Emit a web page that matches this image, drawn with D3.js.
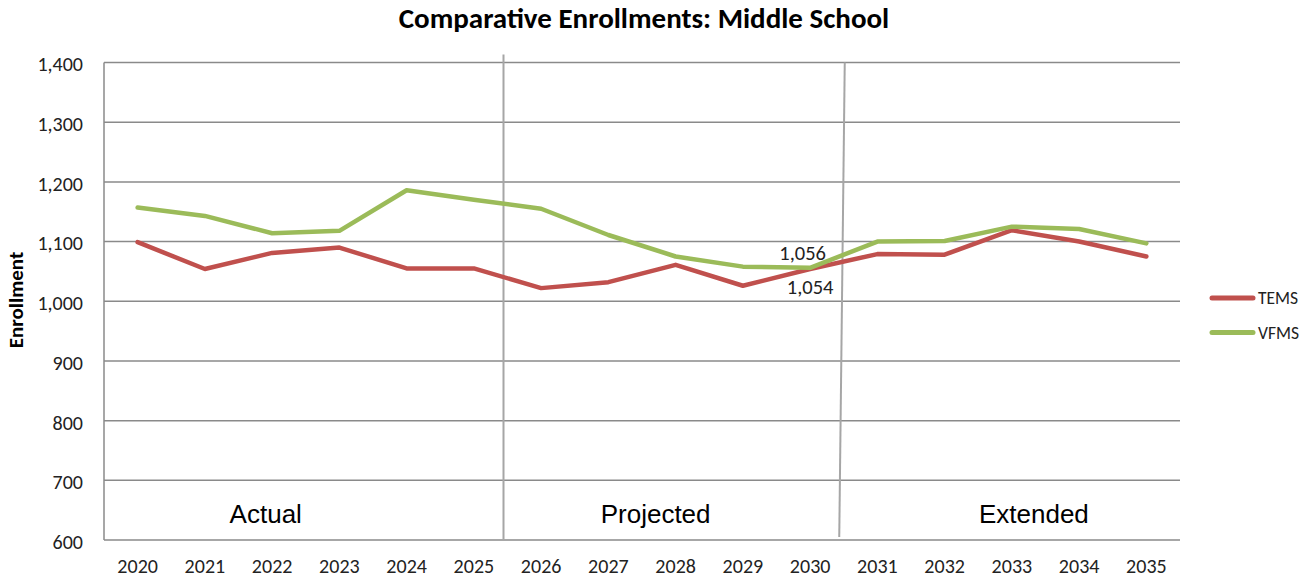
<!DOCTYPE html>
<html>
<head>
<meta charset="utf-8">
<script src="https://cdn.jsdelivr.net/npm/d3@7"></script>
<style>
  html, body { margin: 0; padding: 0; background: #fff; }
  svg { display: block; }
</style>
</head>
<body>
<svg id="chart" width="1316" height="580"></svg>
<script>
const years = ["2020","2021","2022","2023","2024","2025","2026","2027","2028","2029","2030","2031","2032","2033","2034","2035"];
const temsValues = [1099, 1054, 1081, 1090, 1055, 1055, 1022, 1032, 1061, 1026, 1054, 1079, 1078, 1119, 1100, 1075];
const vfmsValues = [1157, 1143, 1114, 1118, 1186, 1170, 1155, 1111, 1075, 1058, 1056, 1100, 1101, 1125, 1121, 1097];
const seriesNames = ["TEMS", "VFMS"];
const seriesColors = ["#C0504D", "#9BBB59"];
const yTicks = [600, 700, 800, 900, 1000, 1100, 1200, 1300, 1400];
const sectionLabels = ["Actual", "Projected", "Extended"];
const sectionFrom = ["2020", "2026", "2031"];
const sectionTo = ["2025", "2030", "2035"];
const labelledYear = "2030";

const svg = d3.select("#chart");
const margin = { left: 104, right: 1180, top: 62.5, bottom: 540 };

const x = d3.scaleBand().domain(years).range([margin.left, margin.right]);
const y = d3.scaleLinear().domain([600, 1400]).range([margin.bottom, margin.top]);
const xc = d => x(d) + x.bandwidth() / 2;
const fmt = d3.format(",");

const calibri = "Carlito, Calibri, 'Open Sans', 'Noto Sans', sans-serif";

// Title
svg.append("text")
  .attr("x", 644).attr("y", 28)
  .attr("text-anchor", "middle")
  .style("font-family", calibri)
  .style("font-weight", "bold")
  .style("font-size", "29px")
  .style("fill", "#000")
  .text("Comparative Enrollments: Middle School");

// Gridlines
svg.append("g")
  .selectAll("line")
  .data(yTicks)
  .join("line")
  .attr("x1", margin.left).attr("x2", margin.right)
  .attr("y1", d => y(d)).attr("y2", d => y(d))
  .attr("stroke", "#8a8a8a").attr("stroke-width", 1.5);

// Left axis line
svg.append("line")
  .attr("x1", margin.left).attr("x2", margin.left)
  .attr("y1", margin.top).attr("y2", margin.bottom)
  .attr("stroke", "#8a8a8a").attr("stroke-width", 1.5);

// Y axis labels
const yAxis = d3.axisLeft(y).tickValues(yTicks).tickFormat(fmt).tickSize(0).tickPadding(21);
const gy = svg.append("g").attr("transform", `translate(${margin.left},2)`).call(yAxis);
gy.select(".domain").remove();
gy.selectAll("text")
  .style("font-family", calibri)
  .style("font-size", "20px")
  .style("fill", "#222");

// X axis labels
const xAxis = d3.axisBottom(x).tickSize(0).tickPadding(19);
const gx = svg.append("g").attr("transform", `translate(0,${margin.bottom})`).call(xAxis);
gx.select(".domain").remove();
gx.selectAll("text")
  .style("font-family", calibri)
  .style("font-size", "20px")
  .style("fill", "#222");

// Y axis title
svg.append("text")
  .attr("transform", `translate(23,300) rotate(-90)`)
  .attr("text-anchor", "middle")
  .style("font-family", calibri)
  .style("font-weight", "bold")
  .style("font-size", "21px")
  .style("fill", "#000")
  .text("Enrollment");

// Section separators (hand-drawn lines in the original)
const sep1x = (xc("2025") + xc("2026")) / 2 - 4;
const sep2x = (xc("2030") + xc("2031")) / 2;
svg.append("line")
  .attr("x1", sep1x).attr("x2", sep1x)
  .attr("y1", margin.top - 8).attr("y2", margin.bottom)
  .attr("stroke", "#a6a6a6").attr("stroke-width", 2);
svg.append("line")
  .attr("x1", sep2x + 1).attr("x2", sep2x - 4.5)
  .attr("y1", margin.top).attr("y2", margin.bottom - 3)
  .attr("stroke", "#a6a6a6").attr("stroke-width", 2);

// Section labels
const sectionShift = [-40, -20, 22];
svg.append("g")
  .selectAll("text")
  .data(sectionLabels)
  .join("text")
  .attr("x", (d, i) => (xc(sectionFrom[i]) + xc(sectionTo[i])) / 2 + sectionShift[i])
  .attr("y", y(630) + 0.5)
  .attr("text-anchor", "middle")
  .style("font-family", "'Liberation Sans', Arial, sans-serif")
  .style("font-size", "26px")
  .style("fill", "#000")
  .text(d => d);

// Lines
const line = d3.line().x((d, i) => xc(years[i])).y(d => y(d));
const allSeries = [temsValues, vfmsValues];
svg.append("g")
  .selectAll("path")
  .data(allSeries)
  .join("path")
  .attr("d", d => line(d))
  .attr("fill", "none")
  .attr("stroke", (d, i) => seriesColors[i])
  .attr("stroke-width", 4.5)
  .attr("stroke-linejoin", "round")
  .attr("stroke-linecap", "round");

// Data labels at 2030
const li = years.indexOf(labelledYear);
svg.append("text")
  .attr("x", xc(labelledYear) - 7.5).attr("y", y(vfmsValues[li]) - 8)
  .attr("text-anchor", "middle")
  .style("font-family", calibri)
  .style("font-size", "20.5px")
  .style("fill", "#222")
  .text(fmt(vfmsValues[li]));
svg.append("text")
  .attr("x", xc(labelledYear)).attr("y", y(temsValues[li]) + 25)
  .attr("text-anchor", "middle")
  .style("font-family", calibri)
  .style("font-size", "20.5px")
  .style("fill", "#222")
  .text(fmt(temsValues[li]));

// Legend
const legend = svg.append("g")
  .selectAll("g")
  .data(seriesNames)
  .join("g")
  .attr("transform", (d, i) => `translate(1212,${298 + i * 34.5})`);
legend.append("line")
  .attr("x1", 0).attr("x2", 41)
  .attr("stroke", (d, i) => seriesColors[i])
  .attr("stroke-width", 5)
  .attr("stroke-linecap", "round");
legend.append("text")
  .attr("x", 46).attr("dy", "0.35em")
  .style("font-family", calibri)
  .style("font-size", "17.5px")
  .style("fill", "#222")
  .text(d => d);
</script>
</body>
</html>
